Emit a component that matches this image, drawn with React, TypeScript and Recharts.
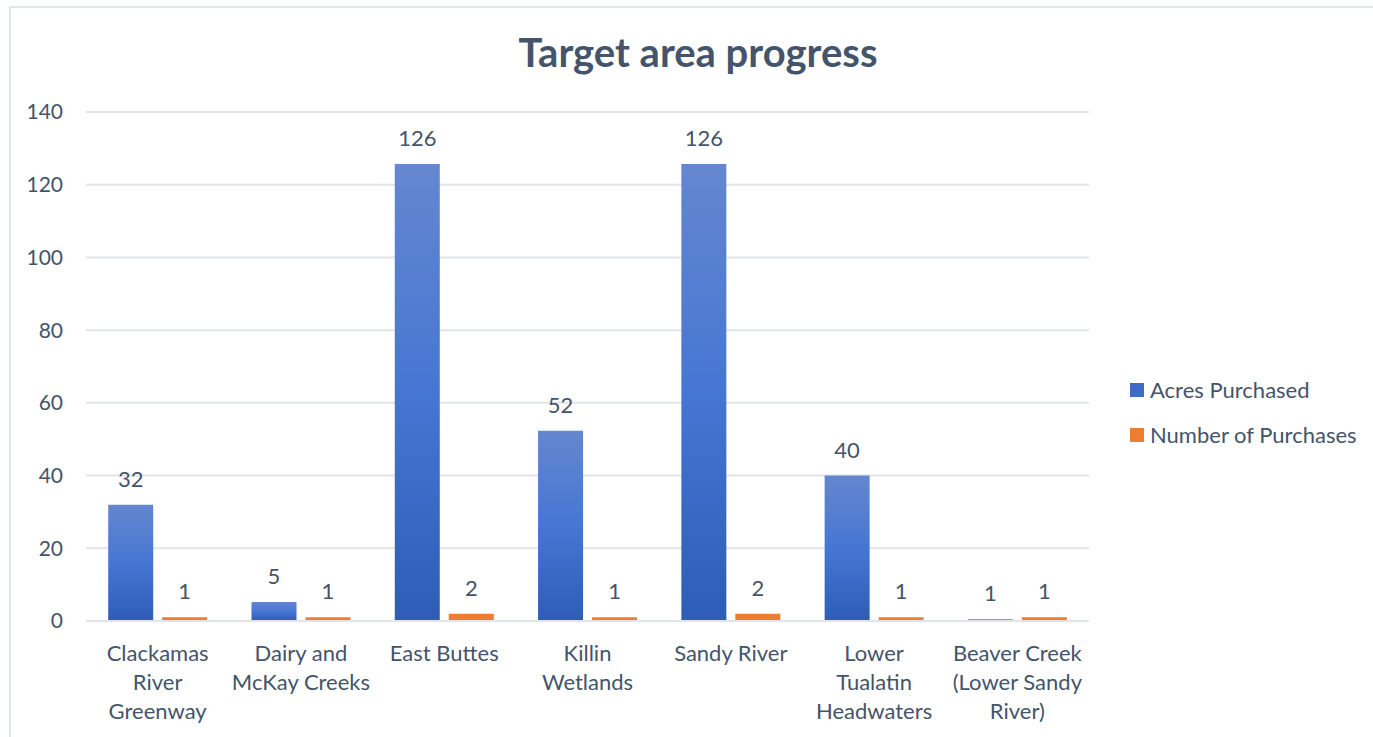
import React from "react";
import {
  BarChart,
  Bar,
  XAxis,
  YAxis,
  CartesianGrid,
  LabelList,
} from "recharts";

// target areas (line breaks follow the original axis labels)
const areas = [
  "Clackamas\nRiver\nGreenway",
  "Dairy and\nMcKay Creeks",
  "East Buttes",
  "Killin\nWetlands",
  "Sandy River",
  "Lower\nTualatin\nHeadwaters",
  "Beaver Creek\n(Lower Sandy\nRiver)",
];
const acresPurchased = [32, 5.2, 125.7, 52.3, 125.7, 40, 0.5];
const numberOfPurchases = [1, 1, 2, 1, 2, 1, 1];
const yTicks = [0, 20, 40, 60, 80, 100, 120, 140];
const seriesNames = ["Acres Purchased", "Number of Purchases"];

const data = areas.map((name, i) => ({
  name,
  acres: acresPurchased[i],
  purchases: numberOfPurchases[i],
}));

const TEXT = "#44546A";
const GRID = "#E1E4EA";
const BLUE = "#3F6BC6";
const ORANGE = "#ED7D31";
const FONT = "Lato, 'Open Sans', sans-serif";

function CategoryTick(props: any) {
  const { x, y, payload } = props;
  const lines = String(payload.value).split("\n");
  return (
    <g transform={`translate(${x},${y})`}>
      {lines.map((line, i) => (
        <text
          key={i}
          x={0}
          y={32 + i * 29}
          textAnchor="middle"
          fill={TEXT}
          fontSize={22}
          fontFamily={FONT}
        >
          {line}
        </text>
      ))}
    </g>
  );
}

function LegendBox() {
  const colors = [BLUE, ORANGE];
  return (
    <div
      style={{
        position: "absolute",
        left: 1130,
        top: 367,
        fontFamily: FONT,
      }}
    >
      {seriesNames.map((label, i) => (
        <div
          key={label}
          style={{ display: "flex", alignItems: "center", height: 45 }}
        >
          <span
            style={{
              width: 14,
              height: 14,
              background: colors[i],
              marginRight: 6,
              display: "inline-block",
            }}
          />
          <span style={{ color: TEXT, fontSize: 22 }}>{label}</span>
        </div>
      ))}
    </div>
  );
}

const roundLabel = (v: any) => Math.round(Number(v));

export default function App() {
  return (
    <div
      style={{
        position: "absolute",
        left: 0,
        top: 0,
        width: 1373,
        height: 737,
        background: "#fff",
        overflow: "hidden",
      }}
    >
      <div
        style={{
          position: "absolute",
          left: 9,
          top: 6,
          width: 1400,
          height: 800,
          border: "2px solid #E3E6EB",
          boxSizing: "border-box",
        }}
      />
      <div
        style={{
          position: "absolute",
          left: 0,
          top: 28,
          width: 1396,
          textAlign: "center",
          fontFamily: FONT,
          fontWeight: 700,
          fontSize: 40,
          color: TEXT,
        }}
      >
        Target area progress
      </div>
      <div style={{ position: "absolute", left: 0, top: 0 }}>
        <BarChart
          width={1373}
          height={737}
          data={data}
          margin={{ top: 112, right: 284, bottom: 0, left: 0 }}
          barCategoryGap="15.5%"
          barGap={9}
        >
          <defs>
            <linearGradient id="blueFill" x1="0" y1="0" x2="0" y2="1">
              <stop offset="0%" stopColor="#6487CF" />
              <stop offset="50%" stopColor="#4676D3" />
              <stop offset="100%" stopColor="#2E5DB6" />
            </linearGradient>
          </defs>
          <CartesianGrid stroke={GRID} strokeWidth={2} vertical={false} />
          <XAxis
            dataKey="name"
            axisLine={{ stroke: GRID, strokeWidth: 2 }}
            tickLine={false}
            interval={0}
            height={116}
            tick={<CategoryTick />}
          />
          <YAxis
            domain={[0, 140]}
            ticks={yTicks}
            width={86}
            axisLine={false}
            tickLine={false}
            tickSize={0}
            tickMargin={23}
            tick={{ fill: TEXT, fontSize: 21, fontFamily: FONT }}
          />
          <Bar
            dataKey="acres"
            name={seriesNames[0]}
            fill="url(#blueFill)"
            isAnimationActive={false}
          >
            <LabelList
              dataKey="acres"
              position="top"
              offset={18}
              formatter={roundLabel}
              fill={TEXT}
              fontSize={22}
              fontFamily={FONT}
            />
          </Bar>
          <Bar
            dataKey="purchases"
            name={seriesNames[1]}
            fill={ORANGE}
            isAnimationActive={false}
          >
            <LabelList
              dataKey="purchases"
              position="top"
              offset={18}
              formatter={roundLabel}
              fill={TEXT}
              fontSize={22}
              fontFamily={FONT}
            />
          </Bar>
        </BarChart>
      </div>
      <LegendBox />
    </div>
  );
}
